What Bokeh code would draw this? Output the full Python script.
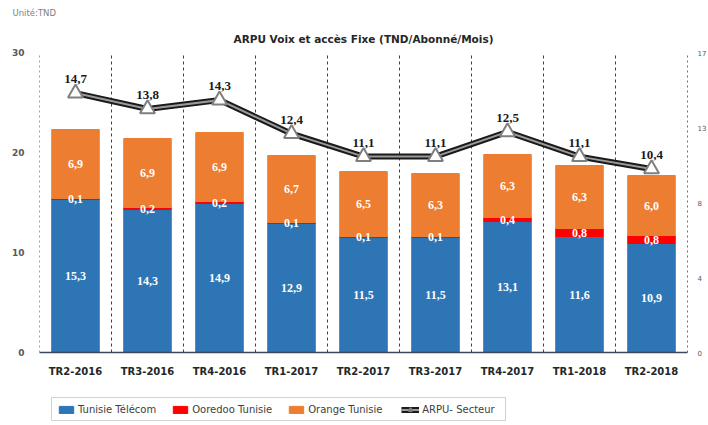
import numpy as np
from bokeh.plotting import figure
from bokeh.layouts import column
from bokeh.models import (ColumnDataSource, Range1d, LinearAxis, FixedTicker, Grid,
                          Legend, LegendItem, Title, LabelSet)
from bokeh.embed import file_html
from bokeh.resources import INLINE

# ---------------- data ----------------
categories = ["TR2-2016", "TR3-2016", "TR4-2016", "TR1-2017", "TR2-2017",
              "TR3-2017", "TR4-2017", "TR1-2018", "TR2-2018"]
tunisie_telecom = [15.3, 14.3, 14.9, 12.9, 11.5, 11.5, 13.1, 11.6, 10.9]
ooredoo = [0.1, 0.2, 0.2, 0.1, 0.1, 0.1, 0.4, 0.8, 0.8]
orange = [6.9, 6.9, 6.9, 6.7, 6.5, 6.3, 6.3, 6.3, 6.0]
arpu_secteur = [14.7, 13.8, 14.3, 12.4, 11.1, 11.1, 12.5, 11.1, 10.4]
series_names = ["Tunisie Télécom", "Ooredoo Tunisie", "Orange Tunisie", "ARPU- Secteur"]
left_ticks = [0, 10, 20, 30]
right_ticks = [0, 4.25, 8.5, 12.75, 17]
right_tick_labels = ["0", "4", "8", "13", "17"]

BLUE = "#2E75B6"
RED = "#FF0000"
ORANGE = "#ED7D31"
FONT = "DejaVu Sans"

def fmt(v):
    return f"{v:.1f}".replace(".", ",")

n = len(categories)
xc = np.arange(n) + 0.5
tt = np.array(tunisie_telecom)
oo = np.array(ooredoo)
org = np.array(orange)

src = ColumnDataSource(dict(
    x=xc,
    tt_top=tt,
    oo_top=tt + oo,
    or_top=tt + oo + org,
    tt_mid=tt / 2,
    oo_mid=tt + oo / 2,
    or_mid=tt + oo + org / 2,
    tt_lab=[fmt(v) for v in tt],
    oo_lab=[fmt(v) for v in oo],
    or_lab=[fmt(v) for v in org],
    arpu=arpu_secteur,
    arpu_lab=[fmt(v) for v in arpu_secteur],
))

p = figure(frame_width=648, frame_height=300, x_range=Range1d(0, n), y_range=Range1d(0, 30),
           output_backend="svg", toolbar_location=None, title=None,
           min_border_left=39, min_border_right=12, min_border_top=0, min_border_bottom=0)
p.extra_y_ranges = {"arpu": Range1d(0, 17)}
p.outline_line_color = None
p.background_fill_color = "white"
p.border_fill_color = "white"

# titles
t_main = Title(text="ARPU Voix et accès Fixe (TND/Abonné/Mois)", align="center",
               text_font=FONT, text_font_size="10.5px", text_font_style="bold",
               text_color="#262626", standoff=16)
t_unit = Title(text="Unité:TND", align="left", text_font=FONT, text_font_size="8.5px",
               text_font_style="normal", text_color="#7f7f7f", offset=-27)
p.add_layout(t_main, "above")
p.add_layout(t_unit, "above")

# grids
p.xgrid.visible = False
p.ygrid.visible = False
p.add_layout(Grid(dimension=0, ticker=FixedTicker(ticks=list(range(1, n))),
                  grid_line_color="#404040", grid_line_dash="3 3", grid_line_width=1))

# bars
w = 0.66
bar_tt = dict(width=w, color=BLUE)
bar_oo = dict(width=w, color=RED)
bar_or = dict(width=w, color=ORANGE)
p.vbar(x="x", bottom=0, top="tt_top", source=src, **bar_tt)
p.vbar(x="x", bottom="tt_top", top="oo_top", source=src, **bar_oo)
p.vbar(x="x", bottom="oo_top", top="or_top", source=src, **bar_or)

lab_kw = dict(text_align="center", text_baseline="middle", text_color="white",
              text_font=FONT, text_font_size="12px", text_font_style="bold", source=src)
p.add_layout(LabelSet(x="x", y="tt_mid", text="tt_lab", **lab_kw))
p.add_layout(LabelSet(x="x", y="oo_mid", text="oo_lab", **lab_kw))
p.add_layout(LabelSet(x="x", y="or_mid", text="or_lab", **lab_kw))

# ARPU line
line_outer = dict(line_color="#1a1a1a", line_width=6, line_join="miter")
line_inner = dict(line_color="#9a9a9a", line_width=2, line_join="miter")
tri_style = dict(marker="triangle", size=15, fill_color="white", line_color="#7f7f7f", line_width=2)
p.line(x="x", y="arpu", y_range_name="arpu", source=src, **line_outer)
p.line(x="x", y="arpu", y_range_name="arpu", source=src, **line_inner)
p.scatter(x="x", y="arpu", y_range_name="arpu", source=src, **tri_style)
p.add_layout(LabelSet(x="x", y="arpu", text="arpu_lab", y_range_name="arpu", y_offset=10,
                      text_align="center", text_baseline="bottom", text_color="#1a1a1a",
                      text_font=FONT, text_font_size="13px", text_font_style="bold",
                      source=src))

# axes
p.xaxis.ticker = FixedTicker(ticks=list(xc))
p.xaxis.major_label_overrides = {float(v): c for v, c in zip(xc, categories)}
p.xaxis.major_label_text_font = FONT
p.xaxis.major_label_text_font_size = "10px"
p.xaxis.major_label_text_font_style = "bold"
p.xaxis.major_label_text_color = "#262626"
p.xaxis.major_label_standoff = 13
p.xaxis.major_tick_out = 0
p.xaxis.minor_tick_out = 0
p.xaxis.major_tick_line_color = None
p.xaxis.minor_tick_line_color = None
p.xaxis.axis_line_color = "#3a4a5a"
p.xaxis.axis_line_width = 1.5

p.yaxis.ticker = FixedTicker(ticks=left_ticks)
p.yaxis.major_label_text_font = FONT
p.yaxis.major_label_text_font_size = "9px"
p.yaxis.major_label_text_font_style = "bold"
p.yaxis.major_label_text_color = "#595959"
p.yaxis.major_label_standoff = 9
p.yaxis.major_tick_line_color = None
p.yaxis.minor_tick_line_color = None
p.yaxis.axis_line_color = "#a0a0a0"
p.yaxis.axis_line_dash = "2 3"

ry = LinearAxis(y_range_name="arpu", ticker=FixedTicker(ticks=right_ticks),
                major_label_overrides={float(t): l for t, l in zip(right_ticks, right_tick_labels)})
ry.major_label_text_font = FONT
ry.major_label_text_font_size = "7px"
ry.major_label_text_color = "#595959"
ry.major_label_standoff = 4
ry.major_tick_line_color = None
ry.minor_tick_line_color = None
ry.axis_line_color = "#707070"
ry.axis_line_dash = "2 3"
p.add_layout(ry, "right")

# ---------------- legend strip ----------------
# swatch renderers share the data but are hidden; only the legend shows them
lg = figure(width=692, height=42, x_range=Range1d(0, n), y_range=Range1d(-2, -1),
            output_backend="svg", toolbar_location=None, title=None,
            x_axis_location=None, y_axis_location=None,
            min_border_left=0, min_border_right=0, min_border_top=0, min_border_bottom=0)
lg.outline_line_color = None
lg.xgrid.visible = False
lg.ygrid.visible = False
g_tt = lg.vbar(x="x", bottom=0, top="tt_top", source=src, visible=False, **bar_tt)
g_oo = lg.vbar(x="x", bottom="tt_top", top="oo_top", source=src, visible=False, **bar_oo)
g_or = lg.vbar(x="x", bottom="oo_top", top="or_top", source=src, visible=False, **bar_or)
g_l1 = lg.line(x="x", y="arpu", source=src, visible=False, **line_outer)
g_l2 = lg.line(x="x", y="arpu", source=src, visible=False, **line_inner)
g_m = lg.scatter(x="x", y="arpu", source=src, visible=False, **tri_style)

legend = Legend(items=[
    LegendItem(label=series_names[0], renderers=[g_tt]),
    LegendItem(label=series_names[1], renderers=[g_oo]),
    LegendItem(label=series_names[2], renderers=[g_or]),
    LegendItem(label=series_names[3], renderers=[g_l1, g_l2, g_m]),
], orientation="horizontal", location=(12, 0))
legend.label_text_font = FONT
legend.label_text_font_size = "10px"
legend.label_text_color = "#404040"
legend.border_line_color = "#a6a6a6"
legend.inactive_fill_alpha = 0
legend.glyph_width = 18
legend.glyph_height = 9
legend.label_height = 12
legend.spacing = 15
legend.padding = 5
legend.margin = 0
legend.label_standoff = 3
legend.label_width = 78
lg.add_layout(legend, "center")

layout = column(p, lg, spacing=0)
open("out.html", "w").write(file_html(layout, INLINE))
